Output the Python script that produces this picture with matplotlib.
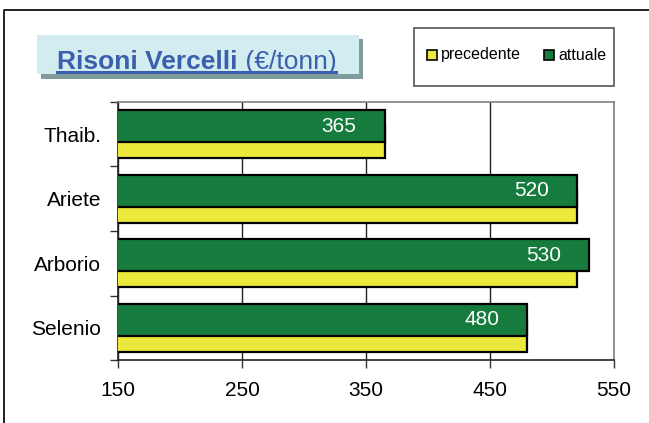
import matplotlib
matplotlib.use("Agg")
import matplotlib.pyplot as plt
from matplotlib.patches import Rectangle
from matplotlib.lines import Line2D
import numpy as np

plt.rcParams['font.family'] = ['Liberation Sans', 'DejaVu Sans']

categories = ["Selenio", "Arborio", "Ariete", "Thaib."]
precedente = [480, 520, 520, 365]
attuale = [480, 530, 520, 365]
series_names = ["precedente", "attuale"]
xticks = [150, 250, 350, 450, 550]
title_bold = "Risoni Vercelli"
title_rest = " (€/tonn)"

W, H = 649, 423
fig = plt.figure(figsize=(W / 100, H / 100), dpi=100)
fig.patch.set_facecolor("white")

def fx(px):
    return px / W

def fy(py):
    return 1 - py / H

# axes
ax_l, ax_r, ax_t, ax_b = 118, 614, 102, 360
ax = fig.add_axes([fx(ax_l), fy(ax_b), fx(ax_r - ax_l), (ax_b - ax_t) / H])

yellow = "#EDE83C"
green = "#167C3E"
colors = [yellow, green]
y = np.arange(len(categories))
h = 0.5
ax.barh(y - 0.125, precedente, height=h, left=0, color=yellow, edgecolor="black", linewidth=1.6, zorder=3)
ax.barh(y + 0.125, attuale, height=h, left=0, color=green, edgecolor="black", linewidth=1.6, zorder=4)

for yi, v in zip(y, attuale):
    ax.annotate(str(v), xy=(v, yi + 0.125), xytext=(-28, 0), textcoords="offset pixels",
                ha="right", va="center", color="white", fontsize=15, zorder=5)

ax.set_xlim(xticks[0], xticks[-1])
ax.set_ylim(-0.5, len(categories) - 0.5)
ax.set_xticks(xticks)
ax.set_xticklabels([str(t) for t in xticks], fontsize=15)
ax.set_yticks(y)
ax.set_yticklabels(categories, fontsize=15)
ax.tick_params(axis="y", length=0, pad=12)
ax.set_yticks(np.arange(-0.5, len(categories), 1.0), minor=True)
ax.tick_params(axis="y", which="minor", length=6, width=1, color="#333333", direction="out")
ax.tick_params(axis="x", length=6, width=1, color="#333333", direction="out", pad=9)
ax.xaxis.grid(True, color="#222222", linewidth=1.0, zorder=0)
ax.set_axisbelow(True)
for s in ["left", "bottom"]:
    ax.spines[s].set_color("#222222")
    ax.spines[s].set_linewidth(1.2)
for s in ["top", "right"]:
    ax.spines[s].set_color("#808080")
    ax.spines[s].set_linewidth(1.2)

# outer frame (top and left)
fig.add_artist(Line2D([fx(3.5), fx(3.5), fx(649)], [fy(423), fy(10), fy(10)],
                      transform=fig.transFigure, color="#222222", linewidth=1.4))

# title box with shadow
fig.add_artist(Rectangle((fx(41), fy(79)), fx(322), (79 - 39) / H, transform=fig.transFigure,
                         facecolor="#7F9C9C", edgecolor="none"))
fig.add_artist(Rectangle((fx(37), fy(74)), fx(322), (74 - 35) / H, transform=fig.transFigure,
                         facecolor="#D2ECEF", edgecolor="none"))
tcol = "#3A5FAD"
t1 = fig.text(fx(57), fy(69), title_bold, fontsize=19, fontweight="bold", color=tcol,
              ha="left", va="baseline")
fig.canvas.draw()
r = fig.canvas.get_renderer()
bb1 = t1.get_window_extent(r)
t2 = fig.text(bb1.x1 / W, fy(69), title_rest, fontsize=19, color=tcol, ha="left", va="baseline")
bb2 = t2.get_window_extent(r)
fig.add_artist(Line2D([fx(57), bb2.x1 / W], [fy(72.5), fy(72.5)], transform=fig.transFigure,
                      color=tcol, linewidth=2.2))

# legend box
fig.add_artist(Rectangle((fx(413.5), fy(86)), fx(200.5), (86 - 28) / H, transform=fig.transFigure,
                         facecolor="white", edgecolor="#555555", linewidth=1.2))
leg_x = [427, 544]
for name, c, lx in zip(series_names, colors, leg_x):
    fig.add_artist(Rectangle((fx(lx), fy(60)), fx(10), 10 / H, transform=fig.transFigure,
                             facecolor=c, edgecolor="black", linewidth=1.2))
    fig.text(fx(lx + 14), fy(59.5), name, fontsize=11.5, color="black", ha="left", va="baseline")

fig.savefig("out.png", dpi=100)
